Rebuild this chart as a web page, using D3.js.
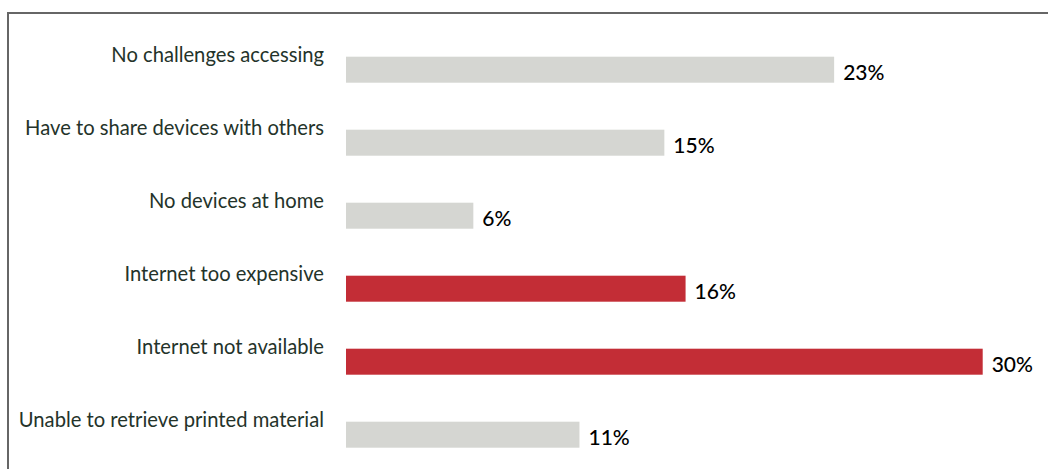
<!DOCTYPE html>
<html>
<head>
<meta charset="utf-8">
<script src="https://cdn.jsdelivr.net/npm/d3@7"></script>
<style>
  html, body { margin: 0; padding: 0; background: #fff; }
  svg { display: block; }
</style>
</head>
<body>
<div id="chart"></div>
<script>
// data
const categories = [
  "No challenges accessing",
  "Have to share devices with others",
  "No devices at home",
  "Internet too expensive",
  "Internet not available",
  "Unable to retrieve printed material"
];
const values = [23, 15, 6, 16, 30, 11];
const highlighted = [false, false, false, true, true, false];

const W = 1048, H = 469;
const GREY = "#d5d6d2", RED = "#c32d36";

const svg = d3.select("#chart").append("svg")
  .attr("width", W)
  .attr("height", H)
  .attr("viewBox", `0 0 ${W} ${H}`);

// frame: only top and left edges are visible
svg.append("path")
  .attr("d", `M8,${H} V13 H${W}`)
  .attr("fill", "none")
  .attr("stroke", "#666")
  .attr("stroke-width", 2);

const x = d3.scaleLinear().domain([0, 30]).range([346, 982.7]);
const y = d3.scaleBand()
  .domain(categories)
  .range([56.7, 447.7])
  .paddingInner(1 - 26 / 73)
  .paddingOuter(0);

const rows = svg.append("g").selectAll("g")
  .data(categories.map((c, i) => ({ c, v: values[i], hi: highlighted[i] })))
  .join("g");

rows.append("rect")
  .attr("x", x(0))
  .attr("y", d => y(d.c))
  .attr("width", d => x(d.v) - x(0))
  .attr("height", y.bandwidth())
  .attr("fill", d => d.hi ? RED : GREY);

rows.append("text")
  .attr("x", 324)
  .attr("y", d => y(d.c) + 5)
  .attr("text-anchor", "end")
  .attr("font-family", "Lato, 'Open Sans', sans-serif")
  .attr("font-size", 20.2)
  .attr("fill", "#24332a")
  .text(d => d.c);

rows.append("text")
  .attr("x", d => x(d.v) + 9)
  .attr("y", d => y(d.c) + y.bandwidth() / 2 + 10)
  .attr("font-family", "Lato, 'Open Sans', sans-serif")
  .attr("font-size", 21)
  .attr("font-weight", 500)
  .attr("fill", "#000")
  .text(d => d.v + "%");
</script>
</body>
</html>
